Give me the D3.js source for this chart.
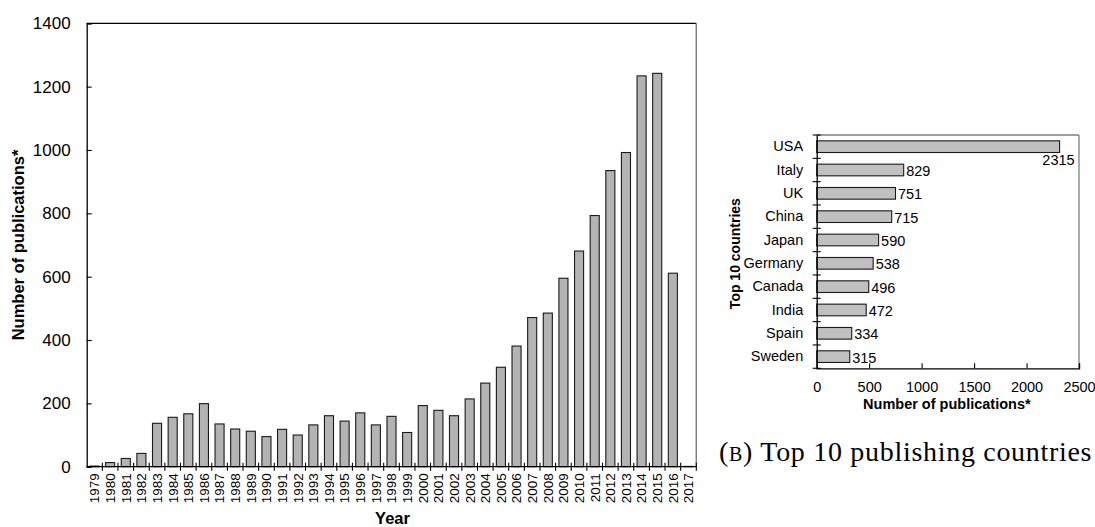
<!DOCTYPE html>
<html>
<head>
<meta charset="utf-8">
<script src="https://cdn.jsdelivr.net/npm/d3@7/dist/d3.min.js"></script>
<style>
  html, body { margin: 0; padding: 0; background: #fff; }
  svg { display: block; }
  text { font-family: "Liberation Sans", Arial, sans-serif; fill: #000; }
</style>
</head>
<body>
<svg id="fig" width="1095" height="527"></svg>
<script>
// Publications per year, 1979–2017
const years = ["1979","1980","1981","1982","1983","1984","1985","1986","1987","1988",
  "1989","1990","1991","1992","1993","1994","1995","1996","1997","1998","1999","2000",
  "2001","2002","2003","2004","2005","2006","2007","2008","2009","2010","2011","2012",
  "2013","2014","2015","2016","2017"];
const yearCounts = [2, 13, 26, 42, 137, 156, 167, 199, 135, 119,
  112, 95, 118, 100, 132, 161, 144, 170, 132, 159, 108, 193,
  178, 161, 214, 264, 314, 381, 471, 485, 595, 681, 793, 935,
  992, 1234, 1242, 611, 1];
const yearTicks = [0, 200, 400, 600, 800, 1000, 1200, 1400];

// Top 10 publishing countries
const countries = ["USA", "Italy", "UK", "China", "Japan", "Germany", "Canada", "India", "Spain", "Sweden"];
const countryCounts = [2315, 829, 751, 715, 590, 538, 496, 472, 334, 315];
const countryTicks = [0, 500, 1000, 1500, 2000, 2500];

const svg = d3.select("#fig");
const plain = d3.format("d");

// ---------- Left panel: publications per year ----------
{
  const L = 86.7, R = 696.3, T = 23.3, B = 466.7;
  const g = svg.append("g");
  const x = d3.scaleBand().domain(years).range([L, R]).paddingInner(0.42).paddingOuter(0.21);
  const y = d3.scaleLinear().domain([0, 1400]).range([B, T]);

  // frame: top black, right grey
  g.append("line").attr("x1", L).attr("x2", R).attr("y1", T).attr("y2", T)
    .attr("stroke", "#000").attr("stroke-width", 1.3);
  g.append("line").attr("x1", R).attr("x2", R).attr("y1", T).attr("y2", B)
    .attr("stroke", "#7f7f7f").attr("stroke-width", 1.5);

  // bars
  g.selectAll("rect.bar").data(years).join("rect")
    .attr("class", "bar")
    .attr("x", d => x(d))
    .attr("width", x.bandwidth())
    .attr("y", (d, i) => y(yearCounts[i]))
    .attr("height", (d, i) => B - y(yearCounts[i]))
    .attr("fill", "#b3b3b3")
    .attr("stroke", "#1a1a1a")
    .attr("stroke-width", 1.1);

  // y axis
  const yAxis = d3.axisLeft(y).tickValues(yearTicks).tickFormat(plain).tickSize(-5).tickPadding(16);
  const ya = g.append("g").attr("transform", `translate(${L},0)`).call(yAxis);
  ya.select(".domain").attr("stroke", "#000").attr("stroke-width", 1.3);
  ya.selectAll(".tick line").attr("stroke", "#000").attr("stroke-width", 1.1);
  ya.selectAll(".tick text").style("font-size", "17px").style("font-family", "Liberation Sans, Arial, sans-serif");

  // x axis with ticks on category boundaries
  const xa = g.append("g").attr("transform", `translate(0,${B})`)
    .call(d3.axisBottom(x).tickSize(0).tickPadding(0));
  xa.select(".domain").remove();
  g.append("line").attr("x1", L).attr("x2", R).attr("y1", B).attr("y2", B)
    .attr("stroke", "#000").attr("stroke-width", 1.3);
  const edge = years.map(d => x(d) - x.step() * x.paddingInner() / 2).slice(1).concat([R]);
  g.selectAll("line.xt").data(edge).join("line").attr("class", "xt")
    .attr("x1", d => d).attr("x2", d => d).attr("y1", B - 4).attr("y2", B + 4)
    .attr("stroke", "#000").attr("stroke-width", 1.1);
  xa.selectAll(".tick text")
    .style("font-size", "13.5px").style("font-family", "Liberation Sans, Arial, sans-serif")
    .attr("text-anchor", "end")
    .attr("transform", "rotate(-90)")
    .attr("x", -6.5).attr("y", 0).attr("dy", "0.36em");

  // axis titles
  g.append("text").attr("x", (L + R) / 2 + 1).attr("y", 524)
    .attr("text-anchor", "middle").style("font-weight", "bold").style("font-size", "16.5px")
    .text("Year");
  g.append("text").attr("transform", `translate(24,${(T + B) / 2}) rotate(-90)`)
    .attr("text-anchor", "middle").style("font-weight", "bold").style("font-size", "16.5px")
    .text("Number of publications*");
}

// ---------- Right panel: top 10 countries ----------
{
  const L = 816.7, R = 1079, T = 135, B = 368.3;
  const g = svg.append("g");
  const x = d3.scaleLinear().domain([0, 2500]).range([L, R]);
  const y = d3.scaleBand().domain(countries).range([T, B]).paddingInner(0.5).paddingOuter(0.25);

  // frame: top and right grey
  g.append("line").attr("x1", L).attr("x2", R).attr("y1", T).attr("y2", T)
    .attr("stroke", "#7f7f7f").attr("stroke-width", 1.3);
  g.append("line").attr("x1", R).attr("x2", R).attr("y1", T).attr("y2", B)
    .attr("stroke", "#7f7f7f").attr("stroke-width", 1.3);

  // bars
  g.selectAll("rect.bar").data(countries).join("rect")
    .attr("class", "bar")
    .attr("x", L)
    .attr("y", d => y(d))
    .attr("width", (d, i) => x(countryCounts[i]) - L)
    .attr("height", y.bandwidth())
    .attr("fill", "#c0c0c0")
    .attr("stroke", "#1a1a1a")
    .attr("stroke-width", 1.1);

  // value labels
  g.selectAll("text.val").data(countries).join("text")
    .attr("class", "val")
    .attr("x", (d, i) => i === 0 ? x(countryCounts[i]) + 15 : x(countryCounts[i]) + 2.5)
    .attr("y", (d, i) => y(d) + y.bandwidth() / 2 + (i === 0 ? 18 : 6))
    .attr("text-anchor", (d, i) => i === 0 ? "end" : "start")
    .style("font-size", "14.5px")
    .text((d, i) => countryCounts[i]);

  // y axis: category labels and boundary crosses
  const ya = g.append("g").attr("transform", `translate(${L},0)`)
    .call(d3.axisLeft(y).tickSize(0).tickPadding(13.5));
  ya.select(".domain").attr("stroke", "#000").attr("stroke-width", 1.3);
  ya.selectAll(".tick text").style("font-size", "14.5px").style("font-family", "Liberation Sans, Arial, sans-serif");
  const edges = d3.range(countries.length + 1).map(i => T + i * y.step());
  g.selectAll("line.yt").data(edges).join("line").attr("class", "yt")
    .attr("x1", L - 4).attr("x2", L + 4).attr("y1", d => d).attr("y2", d => d)
    .attr("stroke", "#000").attr("stroke-width", 1.1);

  // x axis
  const xa = g.append("g").attr("transform", `translate(0,${B})`)
    .call(d3.axisBottom(x).tickValues(countryTicks).tickFormat(plain).tickSize(-5).tickPadding(13));
  xa.select(".domain").attr("stroke", "#000").attr("stroke-width", 1.3);
  xa.selectAll(".tick line").attr("stroke", "#000").attr("stroke-width", 1.1);
  xa.selectAll(".tick text").style("font-size", "14.5px").style("font-family", "Liberation Sans, Arial, sans-serif");

  // titles
  g.append("text").attr("x", (L + R) / 2 - 1).attr("y", 409)
    .attr("text-anchor", "middle").style("font-weight", "bold").style("font-size", "14.5px")
    .text("Number of publications*");
  g.append("text").attr("transform", `translate(740,${(T + B) / 2 + 2}) rotate(-90)`)
    .attr("text-anchor", "middle").style("font-weight", "bold").style("font-size", "14px")
    .text("Top 10 countries");

  // sub-figure caption
  const cap = svg.append("text").attr("x", 719).attr("y", 461)
    .style("font-family", "'Liberation Serif', 'Times New Roman', serif")
    .style("font-size", "28px")
    .style("letter-spacing", "0.7px");
  cap.append("tspan").text("(");
  cap.append("tspan").style("font-size", "20px").text("B");
  cap.append("tspan").text(") Top 10 publishing countries");
}
</script>
</body>
</html>
